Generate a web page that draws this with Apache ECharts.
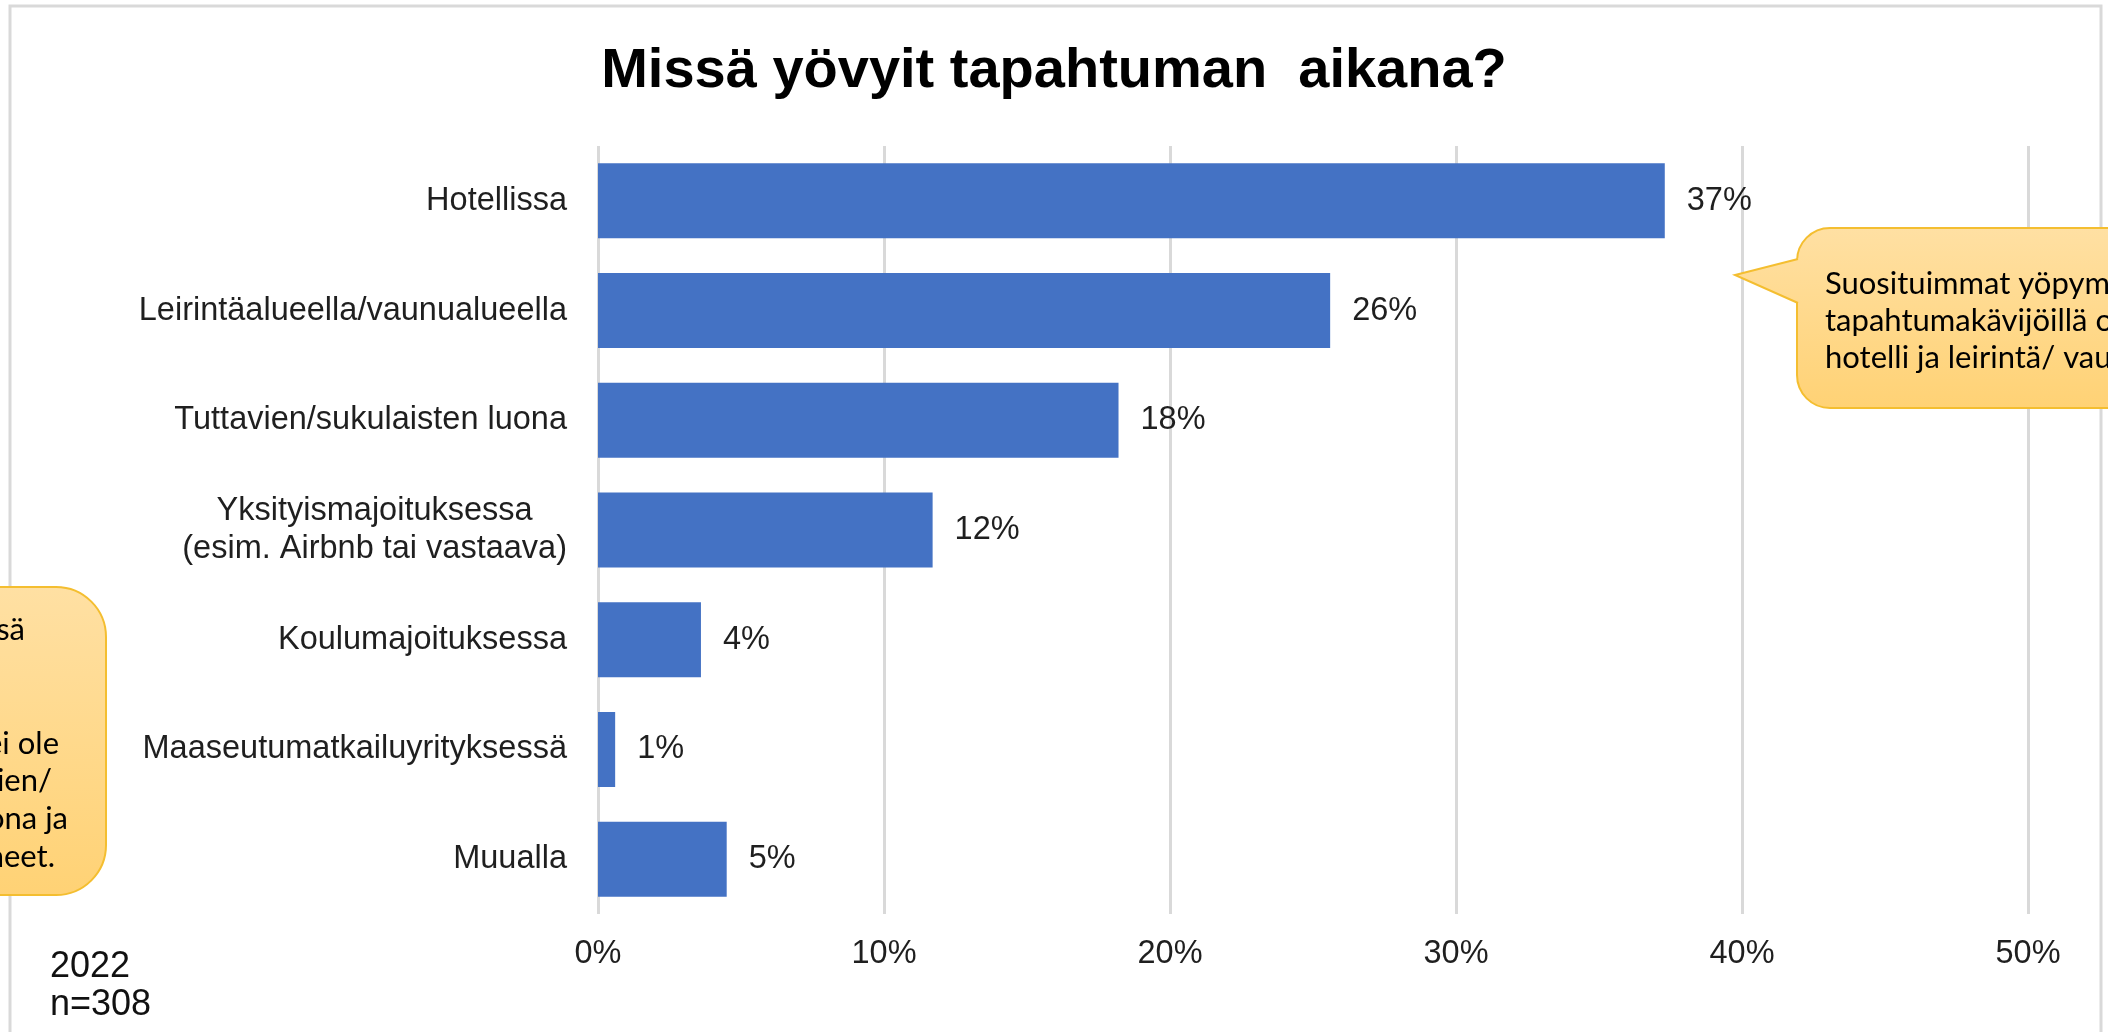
<!DOCTYPE html>
<html>
<head>
<meta charset="utf-8">
<title>Missä yövyit tapahtuman aikana?</title>
<script src="https://cdn.jsdelivr.net/npm/echarts@6/dist/echarts.min.js"></script>
<style>
  html, body { margin: 0; padding: 0; background: #fff; }
  #chart { width: 2108px; height: 1032px; }
</style>
</head>
<body>
<div id="chart"></div>
<script>
// data
const categories = [
  'Hotellissa',
  'Leirintäalueella/vaunualueella',
  'Tuttavien/sukulaisten luona',
  'Yksityismajoituksessa\n(esim. Airbnb tai vastaava)',
  'Koulumajoituksessa',
  'Maaseutumatkailuyrityksessä',
  'Muualla'
];
const shares = [37.3, 25.6, 18.2, 11.7, 3.6, 0.6, 4.5];
const axisMin = 0;
const axisMax = 50;
const axisStep = 10;

const titleText = 'Missä yövyit tapahtuman  aikana?';
const sampleNote = ['2022', 'n=308'];
const noteRight = ['Suosituimmat yöpymispaikat', 'tapahtumakävijöillä olivat', 'hotelli ja leirintä/ vaunualue.'];
const noteLeft = ['Muualla yöpyneet mainitsivat mm. mökissä', 'Osalle kävijöistä tapahtuma ei ole', 'yöpymisen kohde, vaan tuttavien/', 'sukulaisten luona ja', 'kotona yöpyneet.'];

const textColor = '#1f1f1f';
const font = '"Liberation Sans", Arial, sans-serif';
const labelSize = 32.5;

// callout text is Calibri-like: narrow font if there is one, else Lato
function hasFont(name) {
  let c = document.createElement('canvas').getContext('2d');
  let probe = 'Suosituimmat yöpymispaikat';
  c.font = '40px monospace';
  let w0 = c.measureText(probe).width;
  c.font = '40px "' + name + '", monospace';
  return c.measureText(probe).width !== w0;
}
const narrow = hasFont('Liberation Sans Narrow');
const noteFont = narrow ? '35px "Liberation Sans Narrow", sans-serif' : '31px Lato, sans-serif';

function noteGradient(y0, y1) {
  return {
    type: 'linear', x: 0, y: y0, x2: 0, y2: y1, global: true,
    colorStops: [{ offset: 0, color: '#FFE0A3' }, { offset: 1, color: '#FFD275' }]
  };
}

let chart = echarts.init(document.getElementById('chart'));

// frame, callout boxes and their texts
let graphics = [
  {
    type: 'rect', z: 1, silent: true,
    shape: { x: 10, y: 6, width: 2091, height: 1100 },
    style: { fill: 'none', stroke: '#d9d9d9', lineWidth: 3 }
  },
  {
    type: 'rect', z: 100,
    shape: { x: 1797, y: 228, width: 420, height: 180, r: 33 },
    style: { fill: noteGradient(228, 408), stroke: '#F4BE30', lineWidth: 2 }
  },
  {
    type: 'polygon', z: 101,
    shape: { points: [[1800, 258], [1735, 275], [1800, 304]] },
    style: { fill: noteGradient(228, 408) }
  },
  {
    type: 'polyline', z: 102,
    shape: { points: [[1798, 259], [1735, 275], [1798, 303]] },
    style: { fill: null, stroke: '#F4BE30', lineWidth: 2 }
  },
  {
    type: 'rect', z: 100,
    shape: { x: -300, y: 587, width: 406, height: 308, r: 50 },
    style: { fill: noteGradient(587, 895), stroke: '#F4BE30', lineWidth: 2 }
  }
];

noteRight.forEach(function (line, i) {
  graphics.push({
    type: 'text', z: 110, x: 1825, y: 284 + i * 37,
    style: { text: line, fill: '#000', font: noteFont, align: 'left', verticalAlign: 'middle' }
  });
});

// left note is cut by the picture edge, only the line ends show
const leftEnds = [25, 59, 52, 68, 55];
const leftRows = [630, 744, 781, 819, 857];
noteLeft.forEach(function (line, i) {
  graphics.push({
    type: 'text', z: 110, x: leftEnds[i], y: leftRows[i],
    style: { text: line, fill: '#000', font: noteFont, align: 'right', verticalAlign: 'middle' }
  });
});

sampleNote.forEach(function (line, i) {
  graphics.push({
    type: 'text', z: 110, x: 50, y: 967 + i * 38,
    style: { text: line, fill: '#111', font: '36px ' + font, align: 'left', verticalAlign: 'middle' }
  });
});

chart.setOption({
  backgroundColor: '#fff',
  animation: false,
  title: {
    text: titleText,
    left: 'center',
    top: 39,
    textStyle: { fontFamily: font, fontSize: 56, fontWeight: 'bold', color: '#000' }
  },
  grid: {
    left: 598,
    right: 80,
    top: 146,
    bottom: 118,
    containLabel: false,
    outerBoundsMode: 'none'
  },
  xAxis: {
    type: 'value',
    min: axisMin,
    max: axisMax,
    interval: axisStep,
    axisLine: { show: false },
    axisTick: { show: false },
    splitLine: { lineStyle: { color: '#d9d9d9', width: 3 } },
    axisLabel: {
      formatter: '{value}%',
      margin: 24,
      fontFamily: font,
      fontSize: labelSize,
      color: textColor
    }
  },
  yAxis: {
    type: 'category',
    inverse: true,
    data: categories,
    axisLine: { show: false },
    axisTick: { show: false },
    axisLabel: {
      margin: 31,
      formatter: function (v) {
        return v.split('\n').map(function (s) { return '{c|' + s + '}'; }).join('\n');
      },
      rich: {
        c: { align: 'center', fontFamily: font, fontSize: labelSize, color: textColor, lineHeight: 38 }
      }
    }
  },
  series: [
    {
      type: 'bar',
      data: shares,
      barWidth: 75,
      itemStyle: { color: '#4472C4' },
      label: {
        show: true,
        position: 'right',
        distance: 22,
        formatter: function (p) { return Math.round(p.value) + '%'; },
        fontFamily: font,
        fontSize: labelSize,
        color: textColor
      }
    }
  ],
  graphic: graphics
});
</script>
</body>
</html>
